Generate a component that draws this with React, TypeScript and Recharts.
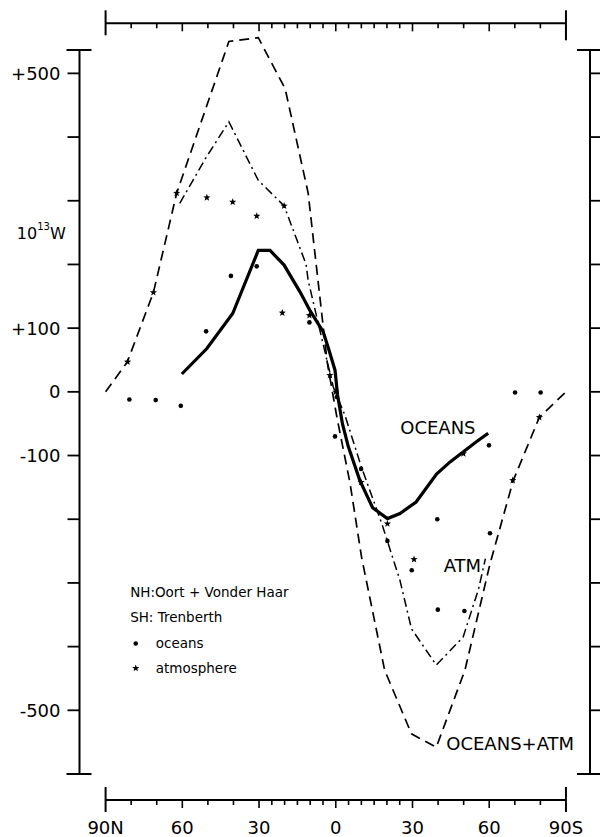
import React from 'react'
import {
  ComposedChart,
  Line,
  Scatter,
  XAxis,
  YAxis,
  ReferenceLine,
  ReferenceDot
} from 'recharts'

// latitude in degrees (+ = north), northward energy transport in 10^13 W
const oceansModel: [number, number][] = [
  [60.2, 28], [50.4, 68], [40.3, 123], [30.3, 222], [25.7, 222], [20.2, 199],
  [14, 157], [10, 127], [4.9, 94], [2.6, 65], [0.3, 34], [-0.7, -5], [-2.6, -50],
  [-4.9, -86], [-9.4, -139], [-14.4, -182], [-20.2, -199], [-25.1, -191],
  [-31.4, -173], [-39.4, -129], [-44.7, -110], [-49.9, -94], [-55.1, -78], [-59.6, -65]
]

const atmModel: [number, number][] = [
  [61, 296], [51, 366], [41.8, 424], [30.3, 332], [20.2, 292], [11.6, 200],
  [10.8, 175], [5.6, 86], [1, 8], [-3.6, -37], [-10.1, -119], [-18, -207],
  [-25.1, -296], [-29.6, -372], [-39.3, -429], [-49.8, -385], [-55.8, -310], [-58.5, -262]
]

const totalModel: [number, number][] = [
  [90, 0], [81.5, 47], [71.3, 156], [62.2, 312], [41.8, 550], [30.3, 556],
  [19.8, 476], [10.8, 312], [7.1, 180], [3.3, 45], [-0.4, -39], [-5.6, -144],
  [-10.1, -260], [-19.1, -437], [-29.6, -537], [-39.3, -558], [-50.5, -437],
  [-60.3, -270], [-69.4, -139], [-79.6, -40], [-90, 0]
]

const oceansObs: [number, number][] = [
  [80.7, -12], [70.4, -13], [60.6, -22], [50.7, 95], [41, 182], [30.9, 197],
  [10.3, 109], [-0.4, -8], [0.3, -70], [-9.9, -121], [-20.2, -234], [-29.7, -280],
  [-39.7, -200], [-39.9, -342], [-50.3, -344], [-59.9, -84], [-60.3, -222],
  [-70.1, -1], [-80.1, -1]
]

const atmObs: [number, number][] = [
  [81.4, 47], [71.3, 156], [62.2, 312], [50.4, 305], [40.3, 298], [30.9, 276],
  [20.2, 292], [20.9, 124], [10.3, 120], [2.3, 26], [0, 0], [-9.9, -142],
  [-20.2, -207], [-30.6, -263], [-49.9, -97], [-69.2, -139], [-79.6, -40]
]

const latTicks = [90, 80, 70, 60, 50, 40, 30, 25, 20, 15, 10, 5, 0, -5, -10, -15, -20, -25, -30, -40, -50, -60, -70, -80, -90]
const latLabelValues = [90, 60, 30, 0, -30, -60, -90]
const latLabelTexts = ['90N', '60', '30', '0', '30', '60', '90S']

const Y_BOTTOM = -600
const Y_CAP = 536.7
const yTicks = [-600, -500, -400, -300, -200, -100, 0, 100, 200, 300, 400, 500, Y_CAP]
const yLabelValues = [500, 100, 0, -100, -500]
const yLabelTexts = ['+500', '+100', '0', '-100', '-500']

const toPoints = (rows: [number, number][]) => rows.map(([lat, v]) => ({ lat, v }))

const FONT = '"DejaVu Sans", Verdana, sans-serif'
const W = 600
const H = 837
const TOP_H = 23.3
const BOTTOM_H = 63
const BOTTOM_GAP = 26
const X_DOMAIN: [number, number] = [-99.4, 100.2]
const Y_TOP = 578.6
const pxPerUnit = (H - TOP_H - BOTTOM_H) / (Y_TOP - Y_BOTTOM)
const bottomLineV = Y_BOTTOM - BOTTOM_GAP / pxPerUnit

const isMajor = (v: number) => v % 30 === 0

function TopTick(props: any) {
  const { x, y, payload } = props
  const v = payload.value
  if (Math.abs(v) === 90) {
    return <line x1={x} x2={x} y1={y - 13} y2={y + (v < 0 ? 17 : 12)} stroke="#000" strokeWidth={2} />
  }
  return <line x1={x} x2={x} y1={y} y2={y + (isMajor(v) ? 8 : 5)} stroke="#000" strokeWidth={1.6} />
}

function BottomTick(props: any) {
  const { x, y, payload } = props
  const v = payload.value
  const ly = y + BOTTOM_GAP
  const i = latLabelValues.indexOf(v)
  return (
    <g>
      {Math.abs(v) === 90 ? (
        <line x1={x} x2={x} y1={ly - 13} y2={ly + 12} stroke="#000" strokeWidth={2} />
      ) : (
        <line x1={x} x2={x} y1={ly} y2={ly + (isMajor(v) ? 8 : 5)} stroke="#000" strokeWidth={1.6} />
      )}
      {i >= 0 && (
        <text x={x} y={ly + 27} textAnchor="middle" dominantBaseline="central" fontSize={18} fontFamily={FONT} fill="#000">
          {latLabelTexts[i]}
        </text>
      )}
    </g>
  )
}

function LeftTick(props: any) {
  const { x, y, payload } = props
  const v = payload.value
  const cap = v === Y_CAP || v === Y_BOTTOM
  const i = yLabelValues.indexOf(v)
  return (
    <g>
      {cap ? (
        <line x1={x - 13} x2={x + 12} y1={y} y2={y} stroke="#000" strokeWidth={2} />
      ) : (
        <line x1={x - 12} x2={x} y1={y} y2={y} stroke="#000" strokeWidth={1.8} />
      )}
      {i >= 0 && (
        <text x={x - 19} y={y} textAnchor="end" dominantBaseline="central" fontSize={18} fontFamily={FONT} fill="#000">
          {yLabelTexts[i]}
        </text>
      )}
    </g>
  )
}

function RightTick(props: any) {
  const { x, y, payload } = props
  const v = payload.value
  const cap = v === Y_CAP || v === Y_BOTTOM
  return cap ? (
    <line x1={x - 13} x2={x + 12} y1={y} y2={y} stroke="#000" strokeWidth={2} />
  ) : (
    <line x1={x} x2={x + 11} y1={y} y2={y} stroke="#000" strokeWidth={1.8} />
  )
}

function Dot(props: any) {
  const { cx, cy } = props
  if (cx == null || cy == null) return null
  return <circle cx={cx} cy={cy} r={2.3} fill="#000" />
}

function Star(props: any) {
  const { cx, cy } = props
  if (cx == null || cy == null) return null
  const pts: string[] = []
  for (let k = 0; k < 10; k++) {
    const r = k % 2 === 0 ? 3.8 : 1.6
    const a = -Math.PI / 2 + (k * Math.PI) / 5
    pts.push(`${cx + r * Math.cos(a)},${cy + r * Math.sin(a)}`)
  }
  return <polygon points={pts.join(' ')} fill="#000" />
}

const textAt = (label: string, size: number) => (p: any) => (
  <text x={p.cx} y={p.cy} dominantBaseline="central" fontSize={size} fontFamily={FONT} fill="#000">
    {label}
  </text>
)

const unitLabel = (p: any) => (
  <text x={p.cx} y={p.cy} dominantBaseline="central" fontSize={16} fontFamily={FONT} fill="#000">
    10<tspan fontSize={10} dy={-7}>13</tspan><tspan fontSize={16} dy={7}>W</tspan>
  </text>
)

export default function App() {
  return (
    <div style={{ width: W, height: H, background: '#fff' }}>
      <style>{'body{margin:0;background:#fff}'}</style>
      <ComposedChart width={W} height={H} margin={{ top: 0, right: 0, bottom: 0, left: 0 }}>
        <XAxis
          xAxisId="b"
          type="number"
          dataKey="lat"
          domain={X_DOMAIN}
          reversed
          allowDataOverflow
          orientation="bottom"
          height={BOTTOM_H}
          ticks={latTicks}
          interval={0}
          tickSize={0}
          tickMargin={0}
          axisLine={false}
          tickLine={false}
          tick={<BottomTick />}
        />
        <XAxis
          xAxisId="t"
          type="number"
          dataKey="lat"
          domain={X_DOMAIN}
          reversed
          allowDataOverflow
          orientation="top"
          height={TOP_H}
          ticks={latTicks}
          interval={0}
          tickSize={0}
          tickMargin={0}
          axisLine={false}
          tickLine={false}
          tick={<TopTick />}
        />
        <YAxis
          yAxisId="l"
          type="number"
          dataKey="v"
          domain={[Y_BOTTOM, Y_TOP]}
          allowDataOverflow
          width={79.5}
          ticks={yTicks}
          interval={0}
          tickSize={0}
          tickMargin={0}
          axisLine={false}
          tickLine={false}
          tick={<LeftTick />}
        />
        <YAxis
          yAxisId="r"
          orientation="right"
          type="number"
          dataKey="v"
          domain={[Y_BOTTOM, Y_TOP]}
          allowDataOverflow
          width={10}
          ticks={yTicks}
          interval={0}
          tickSize={0}
          tickMargin={0}
          axisLine={false}
          tickLine={false}
          tick={<RightTick />}
        />

        {/* frame: detached axis lines */}
        <ReferenceLine
          xAxisId="b"
          yAxisId="l"
          segment={[{ x: 90, y: Y_TOP }, { x: -90, y: Y_TOP }]}
          stroke="#000"
          strokeWidth={2}
          ifOverflow="visible"
        />
        <ReferenceLine
          xAxisId="b"
          yAxisId="l"
          segment={[{ x: 90, y: bottomLineV }, { x: -90, y: bottomLineV }]}
          stroke="#000"
          strokeWidth={2}
          ifOverflow="visible"
        />
        <ReferenceLine
          xAxisId="b"
          yAxisId="l"
          segment={[{ x: X_DOMAIN[1], y: Y_BOTTOM }, { x: X_DOMAIN[1], y: Y_CAP }]}
          stroke="#000"
          strokeWidth={2}
          ifOverflow="visible"
        />
        <ReferenceLine
          xAxisId="b"
          yAxisId="l"
          segment={[{ x: X_DOMAIN[0], y: Y_BOTTOM }, { x: X_DOMAIN[0], y: Y_CAP }]}
          stroke="#000"
          strokeWidth={2}
          ifOverflow="visible"
        />

        <Line
          xAxisId="b"
          yAxisId="l"
          data={toPoints(totalModel)}
          dataKey="v"
          type="linear"
          stroke="#000"
          strokeWidth={1.7}
          strokeDasharray="10 6"
          dot={false}
          isAnimationActive={false}
        />
        <Line
          xAxisId="b"
          yAxisId="l"
          data={toPoints(atmModel)}
          dataKey="v"
          type="linear"
          stroke="#000"
          strokeWidth={1.5}
          strokeDasharray="9 4 2 4"
          dot={false}
          isAnimationActive={false}
        />
        <Line
          xAxisId="b"
          yAxisId="l"
          data={toPoints(oceansModel)}
          dataKey="v"
          type="linear"
          stroke="#000"
          strokeWidth={3.2}
          dot={false}
          isAnimationActive={false}
        />
        <Scatter
          xAxisId="b"
          yAxisId="l"
          data={toPoints(oceansObs)}
          shape={<Dot />}
          isAnimationActive={false}
        />
        <Scatter
          xAxisId="b"
          yAxisId="l"
          data={toPoints(atmObs)}
          shape={<Star />}
          isAnimationActive={false}
        />

        <ReferenceDot xAxisId="b" yAxisId="l" x={-25.2} y={-55.7} r={0} shape={textAt('OCEANS', 18)} />
        <ReferenceDot xAxisId="b" yAxisId="l" x={-42.2} y={-272} r={0} shape={textAt('ATM', 18)} />
        <ReferenceDot xAxisId="b" yAxisId="l" x={-43.2} y={-552} r={0} shape={textAt('OCEANS+ATM', 18)} />
        <ReferenceDot xAxisId="b" yAxisId="l" x={80.4} y={-314} r={0} shape={textAt('NH:Oort + Vonder Haar', 13.5)} />
        <ReferenceDot xAxisId="b" yAxisId="l" x={80.4} y={-353} r={0} shape={textAt('SH: Trenberth', 13.5)} />
        <ReferenceDot xAxisId="b" yAxisId="l" x={78.2} y={-395} r={0} shape={<Dot />} />
        <ReferenceDot xAxisId="b" yAxisId="l" x={70.4} y={-395} r={0} shape={textAt('oceans', 13.5)} />
        <ReferenceDot xAxisId="b" yAxisId="l" x={78.2} y={-434} r={0} shape={<Star />} />
        <ReferenceDot xAxisId="b" yAxisId="l" x={70.4} y={-434} r={0} shape={textAt('atmosphere', 13.5)} />
        <ReferenceDot xAxisId="b" yAxisId="l" x={124.7} y={249} r={0} ifOverflow="visible" shape={unitLabel} />
      </ComposedChart>
    </div>
  )
}
